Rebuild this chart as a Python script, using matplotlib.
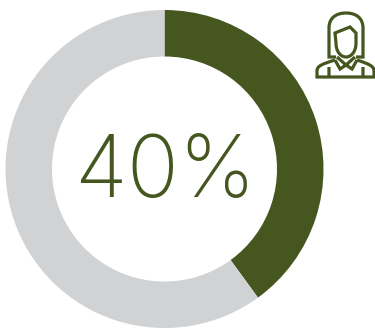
import matplotlib
matplotlib.use('Agg')
import matplotlib.pyplot as plt
from matplotlib.path import Path
from matplotlib.patches import PathPatch

# share of the ring, starting at twelve o'clock
share_labels = ['women', 'rest']
share_values = [40, 60]
share_colors = ['#45561f', '#d1d2d4']
center_text = '40%'

W, H = 375, 329
GREEN = '#45561f'

# icon strokes in pixel space, y pointing down
HAIR = [(Path.MOVETO, (336, 57)), (Path.LINETO, (329, 57)), (Path.LINETO, (329, 28)),
        (Path.CURVE4, (329, 18)), (Path.CURVE4, (336, 13)), (Path.CURVE4, (346, 13)),
        (Path.CURVE4, (356, 13)), (Path.CURVE4, (363, 18)), (Path.CURVE4, (363, 28)),
        (Path.LINETO, (363, 57)), (Path.LINETO, (356, 57))]
FACE = [(Path.MOVETO, (335, 33)), (Path.LINETO, (350, 27)), (Path.LINETO, (356, 33)),
        (Path.LINETO, (356, 43)),
        (Path.CURVE4, (356, 52)), (Path.CURVE4, (351, 57)), (Path.CURVE4, (346, 57)),
        (Path.CURVE4, (341, 57)), (Path.CURVE4, (336, 52)), (Path.CURVE4, (336, 43)),
        (Path.LINETO, (335, 33)), (Path.CLOSEPOLY, (335, 33))]
BODY = [(Path.MOVETO, (335, 60)),
        (Path.CURVE4, (322, 64)), (Path.CURVE4, (317, 66)), (Path.CURVE4, (317, 71)),
        (Path.LINETO, (317, 77)), (Path.LINETO, (374, 77)), (Path.LINETO, (374, 71)),
        (Path.CURVE4, (374, 66)), (Path.CURVE4, (369, 64)), (Path.CURVE4, (357, 60))]
COLLAR = [(Path.MOVETO, (337, 57)), (Path.LINETO, (346, 65)), (Path.LINETO, (355, 57)),
          (Path.MOVETO, (335, 60)), (Path.LINETO, (340, 69)), (Path.LINETO, (346, 65)),
          (Path.LINETO, (352, 69)), (Path.LINETO, (357, 60)),
          (Path.MOVETO, (329, 67)), (Path.LINETO, (329, 77)),
          (Path.MOVETO, (363, 67)), (Path.LINETO, (363, 77))]


def draw_strokes(ax, strokes, lw=2.3):
    codes = [c for c, _ in strokes]
    verts = [v for _, v in strokes]
    ax.add_patch(PathPatch(Path(verts, codes), fill=False, edgecolor=GREEN, lw=lw,
                           capstyle='butt', joinstyle='miter'))


fig = plt.figure(figsize=(W / 100, H / 100), dpi=100)

ax = fig.add_axes([0, 0, 1, 1])
ax.pie(share_values, colors=share_colors, startangle=90, counterclock=False,
       center=(164.5, H - 169), radius=159,
       wedgeprops={'width': 46.5, 'linewidth': 0})
ax.set_xlim(0, W)
ax.set_ylim(0, H)
ax.set_aspect('equal')
ax.axis('off')

ax.text(165, H - 197, center_text, ha='center', va='baseline', color=GREEN,
        fontsize=62, fontfamily='Inter', fontweight='light')

icon = fig.add_axes([0, 0, 1, 1])
icon.set_xlim(0, W)
icon.set_ylim(H, 0)
icon.axis('off')
for strokes in (HAIR, FACE, BODY, COLLAR):
    draw_strokes(icon, strokes)

fig.savefig('out.png', dpi=100)
